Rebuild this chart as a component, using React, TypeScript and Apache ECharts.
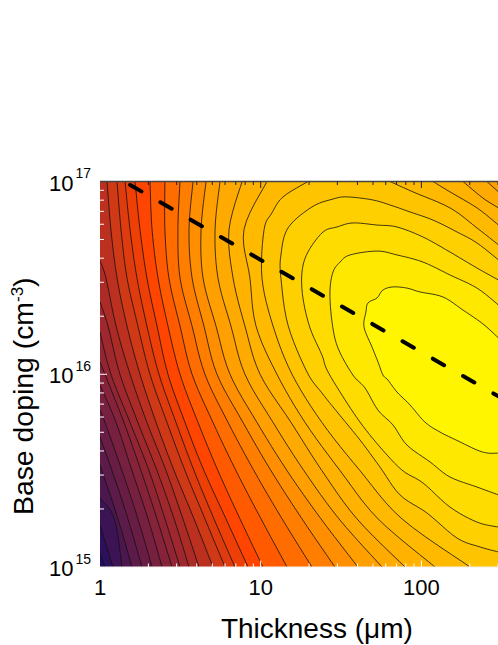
import React, { useEffect, useRef } from "react";
import * as echarts from "echarts";

const RIGHT = 2.48;
const leftEdgeContours: number[][][] = [
  [[0, 15.073], [0.031, 15]],
  [[0, 15.218], [0.081, 15]],
  [[0, 15.358], [0.09, 15.25], [0.137, 15]],
  [[0, 15.529], [0.012, 15.5], [0.112, 15.25], [0.199, 15]],
  [[0, 15.674], [0.075, 15.5], [0.174, 15.25], [0.261, 15]],
  [[0, 15.815], [0.031, 15.75], [0.137, 15.5], [0.236, 15.25], [0.324, 15]],
  [[0, 15.944], [0.1, 15.75], [0.199, 15.5], [0.299, 15.25], [0.386, 15]],
  [[0, 16.064], [0.031, 16], [0.149, 15.75], [0.255, 15.5], [0.355, 15.25], [0.448, 15]],
  [[0, 16.219], [0.068, 16], [0.187, 15.75], [0.305, 15.5], [0.404, 15.25], [0.498, 15]],
  [[0, 16.375], [0.05, 16.25], [0.124, 16], [0.236, 15.75], [0.355, 15.5], [0.461, 15.25], [0.554, 15]],
  [[0, 16.588], [0.037, 16.5], [0.1, 16.25], [0.187, 16], [0.292, 15.75], [0.411, 15.5], [0.516, 15.25], [0.616, 15]],
];

const dopingRows = [15, 15.25, 15.5, 15.75, 16, 16.25, 16.5, 16.75, 17];
const thicknessAtRows: number[][] = [
  [0.703, 0.585, 0.461, 0.349, 0.249, 0.168, 0.106, 0.068, 0.044],
  [0.778, 0.653, 0.529, 0.417, 0.311, 0.236, 0.168, 0.131, 0.106],
  [0.84, 0.709, 0.585, 0.473, 0.367, 0.292, 0.23, 0.187, 0.156],
  [0.921, 0.784, 0.647, 0.529, 0.423, 0.355, 0.292, 0.249, 0.218],
  [1.014, 0.871, 0.734, 0.61, 0.498, 0.423, 0.361, 0.324, 0.311],
  [1.164, 1.002, 0.846, 0.703, 0.573, 0.498, 0.429, 0.404, 0.404],
  [1.319, 1.133, 0.958, 0.797, 0.653, 0.573, 0.498, 0.485, 0.498],
  [1.462, 1.257, 1.064, 0.89, 0.728, 0.647, 0.573, 0.554, 0.579],
  [1.605, 1.375, 1.164, 0.977, 0.809, 0.722, 0.641, 0.629, 0.66],
  [1.755, 1.487, 1.269, 1.077, 0.902, 0.815, 0.734, 0.716, 0.747],
  [1.898, 1.599, 1.381, 1.189, 0.996, 0.902, 0.828, 0.803, 0.884],
  [2.085, 1.73, 1.494, 1.276, 1.101, 0.971, 0.933, 0.896, 1.039],
];
const contourM13: number[][] = [
  [2.303, 15], [1.879, 15.25], [1.618, 15.5], [1.381, 15.75], [1.195, 16], [1.077, 16.25],
  [1.008, 16.5], [1.021, 16.75], [1.07, 16.837], [1.139, 16.92], [1.294, 17],
];
// second branches of the top-clipped contours
const rightM10: number[][] = [[2.408, 17], [2.48, 16.946]];
const rightM11: number[][] = [[2.259, 17], [2.383, 16.914], [2.48, 16.863]];
const rightM12: number[][] = [[2.072, 17], [2.178, 16.946], [2.346, 16.863], [2.48, 16.774]];
const rightM13: number[][] = [[1.805, 17], [1.948, 16.946], [2.178, 16.863], [2.346, 16.759], [2.48, 16.671]];

const contourC3: number[][] = [
  [2.48, 16.593], [2.346, 16.681], [2.222, 16.738], [2.072, 16.8], [1.929, 16.842], [1.823, 16.873],
  [1.699, 16.904], [1.537, 16.92], [1.45, 16.909], [1.319, 16.868], [1.17, 16.759], [1.126, 16.619],
  [1.126, 16.499], [1.17, 16.255], [1.288, 16.012], [1.381, 15.903], [1.481, 15.799], [1.618, 15.659],
  [1.742, 15.519], [1.867, 15.374], [2.035, 15.28], [2.222, 15.15], [2.365, 15.104], [2.48, 15.078],
];
const contourC2: number[][] = [
  [2.48, 16.489], [2.346, 16.551], [2.178, 16.634], [2.01, 16.712], [1.848, 16.764], [1.724, 16.774],
  [1.574, 16.785], [1.475, 16.764], [1.388, 16.738], [1.294, 16.634], [1.257, 16.53], [1.263, 16.396],
  [1.307, 16.24], [1.381, 16.1], [1.413, 16.022], [1.506, 15.892], [1.618, 15.752], [1.742, 15.623],
  [1.879, 15.503], [2.01, 15.436], [2.178, 15.311], [2.346, 15.233], [2.48, 15.207],
];
const contourC1: number[][] = [
  [2.48, 16.359], [2.346, 16.447], [2.178, 16.515], [2.01, 16.582], [1.848, 16.619], [1.724, 16.639],
  [1.556, 16.619], [1.494, 16.582], [1.45, 16.53], [1.431, 16.427], [1.444, 16.271], [1.481, 16.136],
  [1.574, 15.996], [1.649, 15.929], [1.73, 15.814], [1.823, 15.737], [1.91, 15.633], [2.054, 15.545],
  [2.178, 15.467], [2.346, 15.415], [2.48, 15.374],
];
const contourC0: number[][] = [
  [2.48, 16.188], [2.383, 16.261], [2.259, 16.333], [2.134, 16.401], [1.991, 16.427], [1.91, 16.447],
  [1.823, 16.453], [1.761, 16.437], [1.724, 16.396], [1.668, 16.37], [1.655, 16.323], [1.643, 16.245],
  [1.693, 16.141], [1.73, 16.064], [1.761, 15.996], [1.792, 15.97], [1.848, 15.908], [1.929, 15.841],
  [2.022, 15.752], [2.116, 15.7], [2.228, 15.654], [2.346, 15.607], [2.414, 15.591], [2.48, 15.591],
];

const baseColor = "#1e0d62";
const bandColors = [
  "#2c105b", "#3c1354", "#4c174e", "#5c1b49", "#6a1d44", "#78203f", "#86223a", "#922534", "#9f282e", "#ad2b27", "#bc3020",
  "#cf3916", "#de3c0e", "#ee4006", "#ff4500", "#ff5a00", "#ff6c00", "#ff7e00", "#ff8f00", "#ffa000", "#ffaa00", "#ffb200", "#ffba00", "#ffc400",
  "#ffd000", "#ffdc00", "#ffe800", "#fff500",
];

const dashedLine = [[1.54, 9.6e16], [300, 7.7e15]];
const xMinorTicks = [2, 3, 4, 5, 6, 7, 8, 9, 20, 30, 40, 50, 60, 70, 80, 90, 200, 300, 400];
const xMajorTicks = [10, 100];
const yMinorTicks = [2e15, 3e15, 4e15, 5e15, 6e15, 7e15, 8e15, 9e15, 2e16, 3e16, 4e16, 5e16, 6e16, 7e16, 8e16, 9e16];
const yMajorTicks = [1e16];
const xTickLabels = [1, 10, 100];
const yTickLabels: Record<string, string> = { "1e+15": "15", "1e+16": "16", "1e+17": "17" };

const toData = (p: number[]) => [Math.pow(10, p[0]), Math.pow(10, p[1])];

type Band = { curves: number[][][]; corners: number[][]; color: string };
const bands: Band[] = [];
bands.push({ curves: [], corners: [[0, 15], [RIGHT, 15], [RIGHT, 17], [0, 17]], color: baseColor });
leftEdgeContours.forEach((c) => {
  bands.push({ curves: [c], corners: [[RIGHT, 15], [RIGHT, 17], [0, 17]], color: bandColors[bands.length - 1] });
});
const middle: number[][][] = thicknessAtRows.map((r) => r.map((t, i) => [t, dopingRows[i]]));
middle.push(contourM13);
const rightBranches: Record<number, number[][]> = { 9: rightM10, 10: rightM11, 11: rightM12, 12: rightM13 };
middle.forEach((c, i) => {
  const rb = rightBranches[i];
  bands.push(
    rb
      ? { curves: [c, rb], corners: [[RIGHT, 15]], color: bandColors[bands.length - 1] }
      : { curves: [c], corners: [[RIGHT, 17], [RIGHT, 15]], color: bandColors[bands.length - 1] }
  );
});
[contourC3, contourC2, contourC1, contourC0].forEach((c) => {
  bands.push({ curves: [c], corners: [], color: bandColors[bands.length - 1] });
});

// Rounds the drawn path through the read points (pixel space); adds no data.
const rounded = (pts: number[][]) => {
  if (pts.length < 3) return pts;
  const out: number[][] = [];
  for (let i = 0; i < pts.length - 1; i++) {
    const p0 = pts[Math.max(i - 1, 0)];
    const p1 = pts[i];
    const p2 = pts[i + 1];
    const p3 = pts[Math.min(i + 2, pts.length - 1)];
    for (let s = 0; s < 6; s++) {
      const t = s / 6;
      const t2 = t * t;
      const t3 = t2 * t;
      out.push([0, 1].map((k) =>
        0.5 * (2 * p1[k] + (p2[k] - p0[k]) * t + (2 * p0[k] - 5 * p1[k] + 4 * p2[k] - p3[k]) * t2 + (3 * p1[k] - p0[k] - 3 * p2[k] + p3[k]) * t3)
      ));
    }
  }
  out.push(pts[pts.length - 1]);
  return out;
};

type Tick = { from: number[]; dx: number; dy: number; color: string; width: number };
const ticks: Tick[] = [];
const XMAX = 500;
ticks.push({ from: [1, 1e17], dx: 434, dy: 0, color: "#444444", width: 1.5 });
ticks.push({ from: [1, 1e15], dx: 434, dy: 0, color: "#f4f0ec", width: 1 });
xMinorTicks.forEach((v) => {
  ticks.push({ from: [v, 1e17], dx: 0, dy: 3.5, color: "#222222", width: 1 });
  ticks.push({ from: [v, 1e15], dx: 0, dy: -3.5, color: "#ffffff", width: 1 });
});
xMajorTicks.forEach((v) => {
  ticks.push({ from: [v, 1e17], dx: 0, dy: 6.5, color: "#222222", width: 1 });
  ticks.push({ from: [v, 1e15], dx: 0, dy: -6.5, color: "#ffffff", width: 1 });
});
yMinorTicks.forEach((v) => ticks.push({ from: [1, v], dx: 4, dy: 0, color: "#ffffff", width: 1 }));
yMajorTicks.forEach((v) => ticks.push({ from: [1, v], dx: 7, dy: 0, color: "#ffffff", width: 1 }));

const FONT = "'Liberation Sans', Arial, sans-serif";

export default function App() {
  const ref = useRef<HTMLDivElement>(null);
  useEffect(() => {
    const chart = echarts.init(ref.current!, null, { renderer: "svg" });
    chart.setOption({
      animation: false,
      backgroundColor: "#ffffff",
      grid: { left: 100, top: 181.5, width: 433.7, height: 385.5, containLabel: false, outerBoundsMode: "none" },
      xAxis: {
        type: "log",
        min: 1,
        max: XMAX,
        logBase: 10,
        name: "Thickness (μm)",
        nameLocation: "middle",
        nameGap: 47,
        nameTextStyle: { fontFamily: FONT, fontSize: 28, color: "#000" },
        axisLine: { show: false },
        axisTick: { show: false },
        splitLine: { show: false },
        minorTick: { show: false },
        axisLabel: {
          margin: 9,
          fontFamily: FONT,
          fontSize: 22,
          color: "#000",
          showMinLabel: true,
          formatter: (v: number) => (xTickLabels.includes(Math.round(v)) ? String(Math.round(v)) : ""),
        },
      },
      yAxis: {
        type: "log",
        min: 1e15,
        max: 1e17,
        logBase: 10,
        name: "Base doping (cm{sup|-3}{b|)}",
        nameLocation: "middle",
        nameGap: 63,
        nameTextStyle: {
          fontFamily: FONT,
          fontSize: 28.4,
          color: "#000",
          padding: [0, 44, 0, 0],
          rich: {
            sup: { fontFamily: FONT, fontSize: 17, color: "#000", verticalAlign: "top", lineHeight: 28 },
            b: { fontFamily: FONT, fontSize: 28.4, color: "#000" },
          },
        },
        axisLine: { show: false },
        axisTick: { show: false },
        splitLine: { show: false },
        minorTick: { show: false },
        axisLabel: {
          margin: 9,
          color: "#000",
          formatter: (v: number) => {
            const k = Number(v).toExponential().replace(/\.0+/, "");
            return yTickLabels[k] ? `{t|10}{sup|${yTickLabels[k]}}` : "";
          },
          rich: {
            t: { fontFamily: FONT, fontSize: 22, color: "#000", padding: [6, 0, 3, 0] },
            sup: { fontFamily: FONT, fontSize: 14, color: "#000", verticalAlign: "top", padding: [0, 0, 0, 2] },
          },
        },
      },
      series: [
        {
          type: "custom",
          coordinateSystem: "cartesian2d",
          clip: true,
          silent: true,
          encode: { x: 0, y: 1 },
          data: bands.map(() => [1, 1e15]),
          renderItem: (params: any, api: any) => {
            const b = bands[params.dataIndex];
            const px = (p: number[]) => api.coord(toData(p));
            const curves = b.curves.map((c) => rounded(c.map(px)));
            const fill = [...curves.flat(), ...b.corners.map(px)];
            const children: any[] = [
              { type: "polygon", shape: { points: fill }, style: { fill: b.color, stroke: null } },
            ];
            curves.forEach((l) =>
              children.push({
                type: "polyline",
                shape: { points: l },
                style: { fill: null, stroke: "#111111", lineWidth: 0.8 },
              })
            );
            return { type: "group", children };
          },
        },
        {
          type: "custom",
          coordinateSystem: "cartesian2d",
          clip: false,
          silent: true,
          encode: { x: 0, y: 1 },
          data: ticks.map(() => [1, 1e15]),
          renderItem: (params: any, api: any) => {
            const t = ticks[params.dataIndex];
            const a = api.coord(t.from);
            return {
              type: "line",
              shape: { x1: a[0], y1: a[1], x2: a[0] + t.dx, y2: a[1] + t.dy },
              style: { stroke: t.color, lineWidth: t.width },
            };
          },
        },
        {
          type: "line",
          data: dashedLine,
          symbol: "none",
          silent: true,
          clip: true,
          lineStyle: { color: "#000", width: 4, type: [13, 21.9], cap: "round" },
        },
      ],
    });
    return () => chart.dispose();
  }, []);
  return <div ref={ref} style={{ position: "absolute", left: 0, top: 0, width: 498, height: 645 }} />;
}
